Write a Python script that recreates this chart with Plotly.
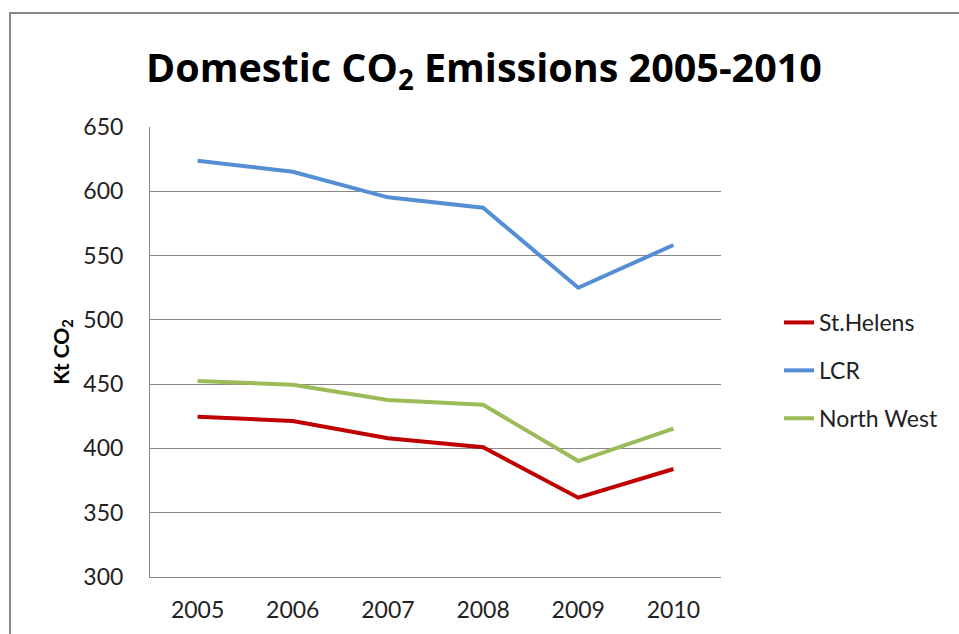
import plotly.graph_objects as go

years = ["2005", "2006", "2007", "2008", "2009", "2010"]
st_helens = [424.7, 421.3, 407.9, 400.9, 361.7, 384.0]
lcr = [623.8, 615.2, 595.3, 587.2, 525.0, 558.2]
north_west = [452.4, 449.5, 437.7, 434.0, 390.2, 415.4]
y_ticks = [300, 350, 400, 450, 500, 550, 600, 650]

series = [
    ("St.Helens", st_helens, "#C00000"),
    ("LCR", lcr, "#558ED5"),
    ("North West", north_west, "#9BBB59"),
]

FONT = "Lato, 'Open Sans', sans-serif"
TFONT = "'Open Sans', Lato, sans-serif"

fig = go.Figure()
for i, (name, vals, col) in enumerate(series):
    fig.add_trace(go.Scatter(
        x=years, y=vals, name=name, mode="lines",
        line=dict(color=col, width=4),
        legendgroup=f"g{i}",
    ))

L, R, T, B = 150, 238, 127, 57
W, H = 959, 634
pw, ph = W - L - R, H - T - B

def px_x(p):
    return (p - L) / pw

def px_y(p):
    return (H - B - p) / ph

fig.update_layout(
    width=W, height=H,
    margin=dict(l=L, r=R, t=T, b=B),
    paper_bgcolor="white", plot_bgcolor="white",
    font=dict(family=FONT, size=23, color="#222"),
    title=dict(
        text="<b>Domestic CO<sub>2</sub> Emissions 2005-2010</b>",
        x=px_x(484), xanchor="center", xref="paper",
        y=1 - 68 / H, yanchor="middle", yref="container",
        font=dict(family=TFONT, size=39.5, color="black"),
    ),
    xaxis=dict(
        type="category", range=[-0.5, 5.5],
        showgrid=False, showline=True, linecolor="#888", linewidth=1,
        ticks="", tickfont=dict(size=23, color="#222"),
        ticklabelstandoff=12,
    ),
    yaxis=dict(
        range=[300, 650], tickvals=y_ticks,
        showgrid=True, gridcolor="#888", gridwidth=1,
        showline=True, linecolor="#888", linewidth=1,
        ticks="", tickfont=dict(size=23, color="#222"),
        ticklabelstandoff=21,
        zeroline=False,
        title=dict(text="<b>Kt CO<sub>2</sub></b>", font=dict(size=21, color="black"), standoff=8),
    ),
    legend=dict(
        x=px_x(779), y=px_y(301), xanchor="left", yanchor="top",
        traceorder="grouped", tracegroupgap=15,
        font=dict(size=23, color="#222"),
        bgcolor="rgba(0,0,0,0)",
    ),
    shapes=[dict(
        type="rect", xref="paper", yref="paper",
        x0=px_x(10), x1=px_x(975), y0=px_y(650), y1=px_y(13),
        line=dict(color="#888", width=2), fillcolor="rgba(0,0,0,0)", layer="below",
    )],
)

fig.write_html("out.html")
